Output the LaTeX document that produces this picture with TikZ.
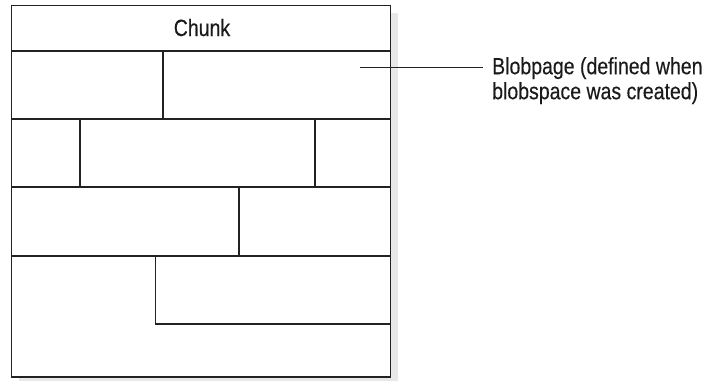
\documentclass[tikz,border=0pt]{standalone}
\usepackage{fontspec}
\setmainfont{Liberation Sans}[FakeStretch=0.83, FakeBold=0.3]
\definecolor{shadowgray}{HTML}{E8E8E8}
\definecolor{linegray}{HTML}{222222}
\definecolor{textgray}{HTML}{1A1A1A}
\tikzset{
  cell/.style={draw=linegray, line width=1.1pt},
  txt/.style={font=\fontsize{23.5}{25}\selectfont, text=textgray, inner sep=0pt},
}
\begin{document}
\begin{tikzpicture}[x=1pt,y=-1pt]
\useasboundingbox (0,0) rectangle (707,381);
% shadow
\fill[shadowgray] (19,13) rectangle (398,381);
% chunk outer box
\fill[white] (11.5,5.5) rectangle (390.5,377);
\draw[cell] (11.5,5.5) rectangle (390.5,377);
% rows
\draw[cell] (11.5,51) -- (390.5,51);
\draw[cell] (11.5,119) -- (390.5,119);
\draw[cell] (11.5,187) -- (390.5,187);
\draw[cell] (11.5,256) -- (390.5,256);
% row 1
\draw[cell] (163,51) -- (163,119);
% row 2
\draw[cell] (80,119) -- (80,187);
\draw[cell] (315,119) -- (315,187);
% row 3
\draw[cell] (239,187) -- (239,256);
% row 4
\draw[cell] (155.5,256) -- (155.5,324) -- (390.5,324);
% title
\node[txt, anchor=base] (chunk) at (202,36) {Chunk};
% label
\node[txt, anchor=north west, align=left] (label) at (492,57) {Blobpage (defined when\\blobspace was created)};
\coordinate (lead) at (360,67.5);
\draw[cell] (lead) -- ([xshift=-9pt]lead -| label.west);
\end{tikzpicture}
\end{document}
